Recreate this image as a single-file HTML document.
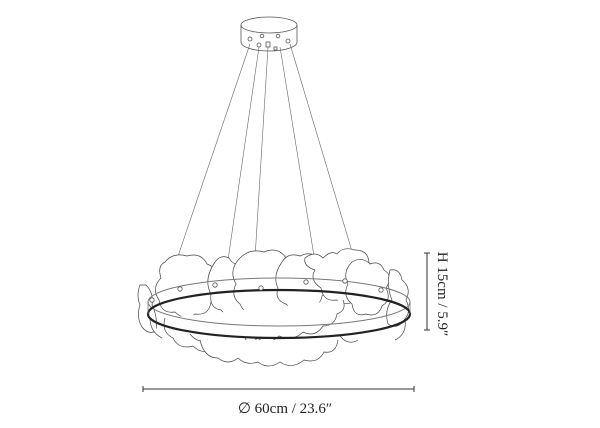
<!DOCTYPE html>
<html><head><style>
html,body{margin:0;padding:0;background:#fff;width:600px;height:428px;overflow:hidden}
svg{display:block}
text{font-family:"Liberation Serif",serif;fill:#222}
</style></head><body>
<svg width="600" height="428" viewBox="0 0 600 428" xmlns="http://www.w3.org/2000/svg">
<g fill="none" stroke="#555" stroke-width="0.8">
<!-- canopy -->
<ellipse cx="269" cy="25" rx="28" ry="8" fill="#fff"/>
<path d="M241 25 V42 A28 9 0 0 0 297 42 V25"/>
<circle cx="250" cy="39" r="2"/><circle cx="262" cy="36" r="1.8"/><circle cx="278" cy="36" r="1.8"/><circle cx="288" cy="41" r="2"/><circle cx="259" cy="45" r="2"/><rect x="266" y="42" width="4" height="5"/><rect x="274" y="47" width="3" height="3"/>
<!-- cables -->
<g stroke="#666" stroke-width="0.6">
<line x1="250" y1="44" x2="176" y2="262"/>
<line x1="259" y1="47" x2="228" y2="260"/>
<line x1="268" y1="47" x2="255" y2="258"/>
<line x1="280" y1="47" x2="314" y2="256"/>
<line x1="290" y1="44" x2="354" y2="258"/>
</g>
<!-- leaves -->
<g stroke="#444" stroke-width="0.7" fill="#fff">
<path d="M140 285 q-4 10 0 20 q-4 12 2 22 q6 8 14 4 q2 -14 -4 -26 q2 -12 -6 -20 z"/>
<path d="M165 262 q8 -10 22 -6 q14 -4 20 8 q12 4 8 18 q6 12 -4 20 q-2 14 -16 12 q-10 8 -20 -2 q-14 2 -16 -12 q-8 -12 2 -22 q-4 -12 4 -16 z"/>
<path d="M215 262 q6 -8 14 -4 q6 10 14 4 q12 6 8 18 q8 10 0 18 q2 14 -12 14 q-10 8 -18 -2 q-12 -2 -10 -16 q-8 -14 4 -32 z"/>
<path d="M240 258 q10 -10 24 -6 q14 -6 22 6 q12 2 10 16 q8 12 -2 22 q0 14 -16 14 q-6 10 -18 2 q-14 6 -20 -8 q-10 -8 -4 -20 q-8 -14 4 -26 z"/>
<path d="M282 262 q6 -10 18 -6 q12 -6 20 4 q10 4 6 16 q8 12 -4 20 q-2 12 -16 10 q-10 8 -20 -2 q-12 -4 -8 -16 q-6 -12 4 -26 z"/>
<path d="M305 258 q10 -8 18 0 q8 -8 14 -4 q6 -8 18 -4 q14 0 14 14 q10 8 2 20 q2 14 -14 14 q-8 10 -20 2 q-14 2 -16 -12 q-12 -8 -6 -18 q-12 -4 -10 -12 z"/>
<path d="M352 262 q10 -6 18 2 q10 -4 14 6 q10 6 2 18 q6 12 -4 18 q-4 12 -16 8 q-12 4 -14 -10 q-10 -8 -4 -20 q-6 -12 4 -22 z"/>
<path d="M390 270 q10 -2 12 10 q10 8 4 20 q6 12 -2 20 q-6 10 -16 4 q-4 -14 4 -24 q-6 -14 -2 -30 z"/>
<path d="M165 318 q-4 14 8 20 q6 12 20 8 q10 10 22 2 q12 6 20 -4 q14 6 22 -6 q12 8 22 -2 q14 6 24 -4 q12 6 20 -6 q12 0 14 -12 q10 -4 6 -14 M190 334 q8 10 18 6 M245 338 q6 12 18 8 M295 340 q6 10 16 6 M340 336 q8 10 18 4"/>
<path d="M200 340 q4 18 18 18 q10 8 20 0 q8 8 20 4 q10 8 22 0 q12 8 24 -2 q14 4 20 -8 q12 2 14 -12"/>
<path d="M150 318 q0 14 12 20 M405 320 q2 14 -10 20"/>
</g>
<!-- ring -->
<ellipse cx="279" cy="302" rx="131" ry="24" stroke="#777" stroke-width="1" fill="none"/>
<ellipse cx="279" cy="314" rx="131" ry="24" stroke="#222" stroke-width="2.2" fill="none"/>
<path d="M148 302 V314 M410 302 V314" stroke="#777"/>
<g stroke="#555" fill="#fff">
<circle cx="152" cy="300" r="2.2"/><circle cx="180" cy="289" r="2.2"/><circle cx="215" cy="285" r="2.2"/><circle cx="261" cy="288" r="2.2"/><circle cx="306" cy="282" r="2.2"/><circle cx="345" cy="281" r="2.2"/><circle cx="381" cy="290" r="2.2"/>
</g>
<!-- dimensions -->
<g stroke="#333" stroke-width="1">
<line x1="143" y1="389" x2="414" y2="389"/>
<line x1="143" y1="386" x2="143" y2="392"/><line x1="414" y1="386" x2="414" y2="392"/>
<line x1="427" y1="253" x2="427" y2="330"/>
<line x1="424" y1="253" x2="430" y2="253"/><line x1="424" y1="330" x2="430" y2="330"/>
</g>
</g>
<text x="285" y="413" font-size="15" text-anchor="middle">∅ 60cm / 23.6″</text>
<text transform="translate(438 294) rotate(90)" font-size="15" text-anchor="middle">H 15cm / 5.9″</text>
</svg>
</body></html>
